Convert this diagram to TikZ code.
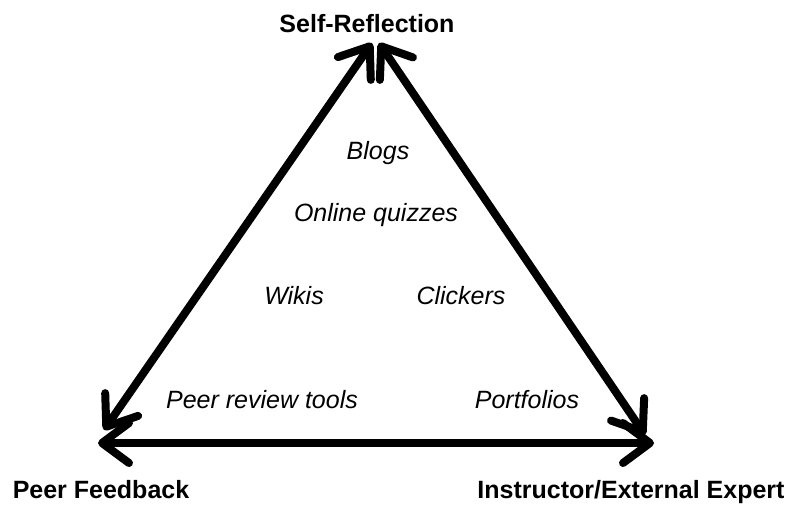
\documentclass[tikz,border=0pt]{standalone}
\usepackage{fontspec}
\setmainfont{Liberation Sans}
\usetikzlibrary{arrows.meta}

\begin{document}
\begin{tikzpicture}[x=1pt,y=-1pt,
    corner/.style={font=\fontsize{25}{30}\selectfont\bfseries,anchor=base},
    tool/.style={font=\fontsize{25}{30}\selectfont\itshape,anchor=base},
    edge/.style={{Straight Barb[length=27pt,width=40pt,round]}-{Straight Barb[length=27pt,width=40pt,round]},line width=8pt}]
    \useasboundingbox (0,0) rectangle (788,504);
    %頂点
    \coordinate (topL) at (372,43);
    \coordinate (topR) at (379,43);
    \coordinate (peerA) at (104,430);
    \coordinate (peerB) at (98,443);
    \coordinate (instA) at (645,435);
    \coordinate (instB) at (654,443);
    %三辺
    \draw[edge] (topL)--(peerA);
    \draw[edge] (topR)--(instA);
    \draw[edge] (peerB)--(instB);
    %ラベル
    \node[corner] (self) at (367,32) {Self-Reflection};
    \node[corner] (peer) at (101,498) {Peer Feedback};
    \node[corner] (inst) at (631,498) {Instructor/External Expert};
    %ツール
    \node[tool] (blogs) at (378,159) {Blogs};
    \node[tool] (quiz) at (376,221) {Online quizzes};
    \node[tool] (wikis) at (294,304) {Wikis};
    \node[tool] (click) at (461,304) {Clickers};
    \node[tool] (review) at (262,408) {Peer review tools};
    \node[tool] (port) at (527,408) {Portfolios};
\end{tikzpicture}
\end{document}
